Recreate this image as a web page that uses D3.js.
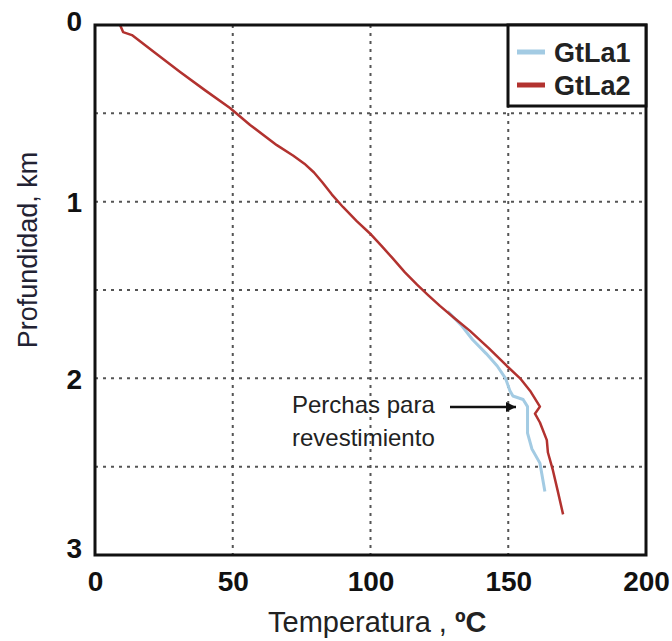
<!DOCTYPE html>
<html>
<head>
<meta charset="utf-8">
<script src="https://cdn.jsdelivr.net/npm/d3@7"></script>
<style>
  body { margin: 0; background: #fff; }
  svg { display: block; font-family: Arial, "Liberation Sans", sans-serif; }
</style>
</head>
<body>
<svg></svg>
<script>
const width = 672, height = 641;
const svg = d3.select("svg").attr("width", width).attr("height", height);

// Data: [temperature °C, depth km]
const gtla1 = [
  [128, 1.62], [133, 1.70], [137, 1.78], [142, 1.86], [146, 1.93], [149, 2.00],
  [150.6, 2.07], [151.7, 2.10], [155.4, 2.12], [157, 2.16], [157, 2.31],
  [158.6, 2.40], [161.5, 2.48], [163.3, 2.64]
];
const gtla2 = [
  [9.1, 0], [10.2, 0.04], [13.4, 0.057], [22, 0.16], [30.9, 0.266], [40, 0.37],
  [49, 0.47], [56.3, 0.566], [66, 0.68], [72, 0.74], [76, 0.785], [79.5, 0.835],
  [82.5, 0.89], [86, 0.96], [90, 1.03], [95, 1.11], [99.8, 1.18], [104, 1.25],
  [108, 1.32], [112.5, 1.40], [116.9, 1.47], [121, 1.53], [125.2, 1.59],
  [130.5, 1.66], [136, 1.73], [143, 1.83], [149.5, 1.93], [154.3, 2.0],
  [157.9, 2.07], [161.5, 2.16], [159.7, 2.2], [161.5, 2.25], [164, 2.35],
  [164.4, 2.42], [166.2, 2.52], [168, 2.64], [169.9, 2.77]
];
const xTicks = [0, 50, 100, 150, 200];
const yTicks = [0, 1, 2, 3];
const xGrid = [50, 100, 150];
const yGrid = [0.5, 1, 1.5, 2, 2.5];
const seriesNames = ["GtLa1", "GtLa2"];
const seriesColors = ["#a3cbe3", "#b2322f"];

const pLeft = 95, pRight = 646, pTop = 25, pBottom = 555;
const x = d3.scaleLinear().domain([0, 200]).range([pLeft, pRight]);
const y = d3.scaleLinear().domain([0, 3]).range([pTop, pBottom]);

// grid lines
svg.append("g").selectAll("line").data(xGrid).enter().append("line")
  .attr("x1", d => x(d)).attr("x2", d => x(d))
  .attr("y1", pTop).attr("y2", pBottom)
  .attr("stroke", "#555").attr("stroke-width", 2).attr("stroke-dasharray", "3,5");
svg.append("g").selectAll("line").data(yGrid).enter().append("line")
  .attr("x1", pLeft).attr("x2", pRight)
  .attr("y1", d => y(d)).attr("y2", d => y(d))
  .attr("stroke", "#555").attr("stroke-width", 2).attr("stroke-dasharray", "3,5");

// curves
const line = d3.line().x(d => x(d[0])).y(d => y(d[1]));
svg.append("path").datum(gtla1)
  .attr("d", line).attr("fill", "none")
  .attr("stroke", seriesColors[0]).attr("stroke-width", 3).attr("stroke-linejoin", "round");
svg.append("path").datum(gtla2)
  .attr("d", line).attr("fill", "none")
  .attr("stroke", seriesColors[1]).attr("stroke-width", 2.5).attr("stroke-linejoin", "round");

// frame
svg.append("rect")
  .attr("x", pLeft).attr("y", pTop)
  .attr("width", pRight - pLeft).attr("height", pBottom - pTop)
  .attr("fill", "none").attr("stroke", "#111").attr("stroke-width", 3);

// axes
const xAxis = svg.append("g").attr("transform", `translate(0,${pBottom})`)
  .call(d3.axisBottom(x).tickValues(xTicks).tickSize(0).tickPadding(16));
const yAxis = svg.append("g").attr("transform", `translate(${pLeft},0)`)
  .call(d3.axisLeft(y).tickValues(yTicks).tickFormat(d3.format("d")).tickSize(0).tickPadding(13));
[xAxis, yAxis].forEach(g => {
  g.select(".domain").remove();
  g.selectAll("text")
    .attr("font-family", "Arial, 'Liberation Sans', sans-serif")
    .attr("font-size", 28).attr("font-weight", "bold").attr("fill", "#111");
});
yAxis.selectAll(".tick text").attr("dy", d => d === 0 ? "0.18em" : d === 3 ? "0.08em" : "0.36em");

// axis titles
const xt = svg.append("text")
  .attr("x", 268).attr("y", 632)
  .attr("font-size", 29).attr("fill", "#222");
xt.append("tspan").text("Temperatura  , ");
xt.append("tspan").attr("font-weight", "bold").text("ºC");
svg.append("text")
  .attr("transform", "translate(37,250) rotate(-90)")
  .attr("text-anchor", "middle")
  .attr("font-size", 27).attr("fill", "#223")
  .text("Profundidad, km");

// legend
const lg = svg.append("g");
lg.append("rect")
  .attr("x", 508).attr("y", pTop).attr("width", pRight - 508).attr("height", 81)
  .attr("fill", "#fff").attr("stroke", "#111").attr("stroke-width", 3);
seriesNames.forEach((name, i) => {
  const ly = 52 + i * 33;
  lg.append("line")
    .attr("x1", 517).attr("x2", 545).attr("y1", ly).attr("y2", ly)
    .attr("stroke", seriesColors[i]).attr("stroke-width", 5);
  lg.append("text")
    .attr("x", 554).attr("y", ly + 10)
    .attr("font-size", 27).attr("font-weight", "bold").attr("fill", "#222")
    .text(name);
});

// annotation
const ann = svg.append("g");
ann.append("text").attr("x", 292).attr("y", 413)
  .attr("font-size", 24).attr("fill", "#222").text("Perchas para");
ann.append("text").attr("x", 292).attr("y", 446)
  .attr("font-size", 24).attr("fill", "#222").text("revestimiento");
svg.append("defs").append("marker")
  .attr("id", "arr").attr("viewBox", "0 0 10 10")
  .attr("refX", 10).attr("refY", 5)
  .attr("markerWidth", 5).attr("markerHeight", 4).attr("orient", "auto")
  .attr("markerUnits", "strokeWidth")
  .append("path").attr("d", "M0,0L10,5L0,10z").attr("fill", "#111");
ann.append("line")
  .attr("x1", 450).attr("x2", 516).attr("y1", 407).attr("y2", 407)
  .attr("stroke", "#111").attr("stroke-width", 2.5)
  .attr("marker-end", "url(#arr)");
</script>
</body>
</html>
